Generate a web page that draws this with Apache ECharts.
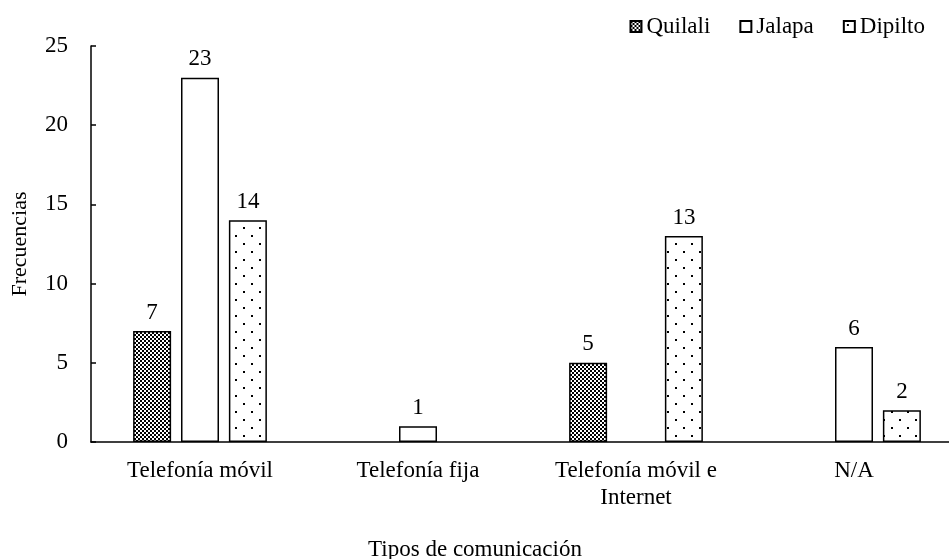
<!DOCTYPE html>
<html>
<head>
<meta charset="utf-8">
<script src="https://cdn.jsdelivr.net/npm/echarts@6/dist/echarts.min.js"></script>
<style>
  html, body { margin: 0; padding: 0; background: #fff; }
  #chart { width: 949px; height: 559px; }
</style>
</head>
<body>
<div id="chart"></div>
<script>
const categories = ["Telefonía móvil", "Telefonía fija", "Telefonía móvil e\nInternet", "N/A"];
const quilali = [7, null, 5, null];
const jalapa = [23, 1, null, 6];
const dipilto = [14, null, 13, 2];
const yTicks = [0, 5, 10, 15, 20, 25];

// checkerboard fill
function checkerPattern() {
  const c = document.createElement("canvas");
  c.width = 4; c.height = 4;
  const ctx = c.getContext("2d");
  ctx.fillStyle = "#fff";
  ctx.fillRect(0, 0, 4, 4);
  ctx.fillStyle = "#000";
  ctx.fillRect(0, 0, 2, 2);
  ctx.fillRect(2, 2, 2, 2);
  return c;
}

// sparse dots fill
function dotPattern() {
  const c = document.createElement("canvas");
  c.width = 16; c.height = 16;
  const ctx = c.getContext("2d");
  ctx.fillStyle = "#fff";
  ctx.fillRect(0, 0, 16, 16);
  ctx.fillStyle = "#000";
  ctx.fillRect(3, 3, 2, 2);
  ctx.fillRect(11, 11, 2, 2);
  return c;
}

const font = "Liberation Serif";

function barSeries(name, values, fill) {
  return {
    type: "bar",
    name: name,
    data: values,
    barWidth: 38,
    barGap: "26%",
    itemStyle: {
      color: fill,
      borderColor: "#000",
      borderWidth: 1.5
    },
    label: {
      show: true,
      position: "top",
      distance: 7,
      color: "#000",
      fontFamily: font,
      fontSize: 23
    }
  };
}

const myChart = echarts.init(document.getElementById("chart"));
myChart.setOption({
  animation: false,
  backgroundColor: "#fff",
  legend: {
    right: 19,
    top: 10,
    icon: "rect",
    itemWidth: 11,
    itemHeight: 11,
    itemGap: 29,
    textStyle: { fontFamily: font, fontSize: 23, color: "#000" },
    data: ["Quilali", "Jalapa", "Dipilto"]
  },
  grid: {
    left: 91,
    top: 46,
    width: 872,
    bottom: 117,
    outerBoundsMode: "none"
  },
  xAxis: {
    type: "category",
    data: categories,
    name: "Tipos de comunicación",
    nameLocation: "middle",
    nameGap: 96,
    nameTextStyle: { fontFamily: font, fontSize: 23, color: "#000", padding: [0, 104, 0, 0] },
    axisLine: { show: true, lineStyle: { color: "#000", width: 1.5 } },
    axisTick: { show: false },
    axisLabel: {
      margin: 15,
      color: "#000",
      fontFamily: font,
      fontSize: 23,
      lineHeight: 27,
      interval: 0
    }
  },
  yAxis: {
    type: "value",
    min: yTicks[0],
    max: yTicks[yTicks.length - 1],
    interval: 5,
    name: "Frecuencias",
    nameLocation: "middle",
    nameGap: 60,
    nameTextStyle: { fontFamily: font, fontSize: 22, color: "#000" },
    axisLine: { show: true, lineStyle: { color: "#000", width: 1.5 } },
    axisTick: { show: true, inside: true, length: 5, lineStyle: { color: "#000", width: 1.5 } },
    axisLabel: { margin: 23, color: "#000", fontFamily: font, fontSize: 23 },
    splitLine: { show: false }
  },
  series: [
    barSeries("Quilali", quilali, { image: checkerPattern(), repeat: "repeat" }),
    barSeries("Jalapa", jalapa, "#fff"),
    barSeries("Dipilto", dipilto, { image: dotPattern(), repeat: "repeat" })
  ]
});
</script>
</body>
</html>
